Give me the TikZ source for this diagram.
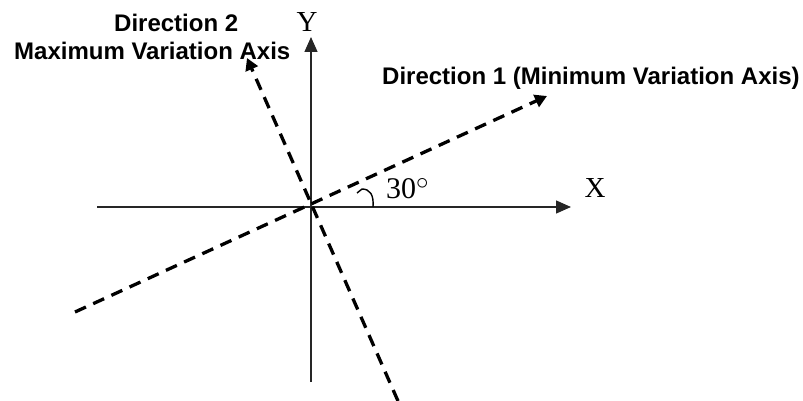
\documentclass[tikz,border=0pt]{standalone}
\usepackage{fontspec}
\setmainfont{Liberation Serif}
\newfontfamily\arialfont{Liberation Sans}
\usetikzlibrary{arrows.meta}
\begin{document}
\begin{tikzpicture}[x=1pt,y=-1pt,
  axisline/.style={line width=1.3pt, draw=black!85, -{Triangle[length=15pt,width=13pt]}},
  dirline/.style={line width=3.3pt, dash pattern=on 12pt off 8pt, -{Triangle[length=12pt,width=13pt]}},
  lbl/.style={inner sep=0pt, font=\arialfont\bfseries\fontsize{24}{27}\selectfont},
  axlbl/.style={inner sep=0pt, font=\fontsize{29}{32}\selectfont}]
\useasboundingbox (0,0) rectangle (803,401);
\coordinate (O) at (311,207);
\coordinate (xl) at (97,207);
\coordinate (xr) at (571,207);
\coordinate (yb) at (311,382);
\coordinate (yt) at (311,37);
\coordinate (d1s) at (75,312);
\coordinate (d1e) at (547,96);
\coordinate (d2s) at (398,401);
\coordinate (d2e) at (247,58);
\coordinate (a1) at (373,207);
\coordinate (a2) at (362,189);
\coordinate (a3) at (357,193);
\draw[axisline] (xl) -- (xr);
\draw[axisline] (yb) -- (yt);
\draw[dirline] (d1s) -- (d1e);
\draw[dirline] (d2s) -- (d2e);
\draw[line width=1.4pt] (a1) .. controls (374,195) and (370,189) .. (a2) -- (a3);
\node[axlbl, anchor=base] (ylab) at (307,32) {Y};
\node[axlbl, anchor=base] (xlab) at (595,197) {X};
\node[axlbl, anchor=base west, font=\fontsize{30}{32}\selectfont] (ang) at (386,198) {30\raisebox{9pt}{\fontsize{36}{36}\selectfont$\circ$}};
\node[lbl, anchor=base west] (d2a) at (114,32) {Direction 2};
\node[lbl, anchor=base west] (d2b) at (14,60) {Maximum Variation Axis};
\node[lbl, anchor=base west] (d1) at (382,85) {Direction 1 (Minimum Variation Axis)};
\end{tikzpicture}
\end{document}
